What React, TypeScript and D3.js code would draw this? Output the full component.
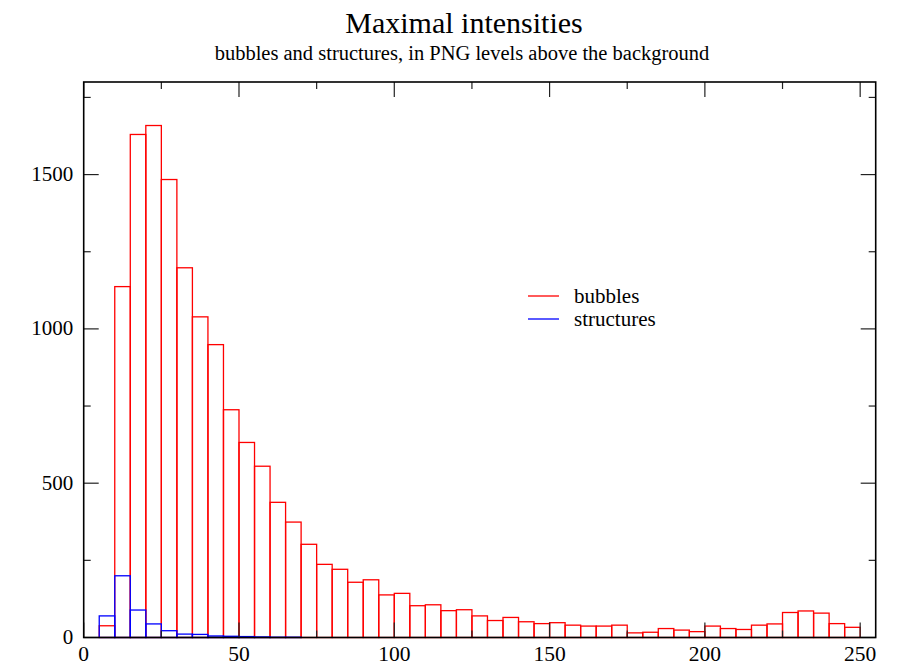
import React from "react";
import * as d3 from "d3";

const binStart = 5;
const binWidth = 5;
const bubbles = [38, 1137, 1630, 1659, 1484, 1198, 1039, 949, 738, 632, 555, 438, 374, 302, 237, 221, 179, 187, 138, 143, 103, 106, 87, 90, 70, 55, 65, 51, 45, 48, 40, 37, 37, 40, 15, 17, 29, 24, 19, 37, 29, 26, 40, 44, 81, 86, 79, 45, 33];
const structures = [70, 200, 89, 44, 22, 11, 10, 5, 4, 3, 2, 1, 1, 0, 0, 0, 0, 0, 0, 0];
const xTicks = [0, 50, 100, 150, 200, 250];
const yTicks = [0, 500, 1000, 1500];
const xMinor = [25, 75, 125, 175, 225];
const yMinor = [250, 750, 1250, 1750];
const seriesNames = ["bubbles", "structures"];
const seriesColors = ["#ff0000", "#0000ff"];

const W = 919, H = 668;
const left = 83.7, right = 875.7, top = 82, bottom = 637.5;

export default function App() {
  const x = d3.scaleLinear().domain([0, 255]).range([left, right]);
  const y = d3.scaleLinear().domain([0, 1800]).range([bottom, top]);
  const font = "'Liberation Serif', 'Times New Roman', serif";
  const bars = (vals: number[], color: string) =>
    vals.map((v, i) => {
      const x0 = x(binStart + i * binWidth);
      const x1 = x(binStart + (i + 1) * binWidth);
      return (
        <rect key={i} x={x0} y={y(v)} width={x1 - x0} height={y(0) - y(v)} fill="none" stroke={color} strokeWidth={1.3} />
      );
    });
  const major = 15, minor = 7;
  return (
    <svg width={W} height={H} style={{ position: "absolute", left: 0, top: 0, background: "#fff" }} fontFamily={font}>
      <text x={464} y={33} textAnchor="middle" fontSize={30}>Maximal intensities</text>
      <text x={462} y={60} textAnchor="middle" fontSize={20.5}>bubbles and structures, in PNG levels above the background</text>
      {bars(bubbles, seriesColors[0])}
      {bars(structures, seriesColors[1])}
      <g stroke="#222" strokeWidth={1.2}>
        {xTicks.map((t) => (
          <g key={"xt" + t}>
            <line x1={x(t)} x2={x(t)} y1={bottom} y2={bottom - major} />
            <line x1={x(t)} x2={x(t)} y1={top} y2={top + major} />
          </g>
        ))}
        {xMinor.map((t) => (
          <g key={"xm" + t}>
            <line x1={x(t)} x2={x(t)} y1={bottom} y2={bottom - minor} />
            <line x1={x(t)} x2={x(t)} y1={top} y2={top + minor} />
          </g>
        ))}
        {yTicks.map((t) => (
          <g key={"yt" + t}>
            <line x1={left} x2={left + major} y1={y(t)} y2={y(t)} />
            <line x1={right} x2={right - major} y1={y(t)} y2={y(t)} />
          </g>
        ))}
        {yMinor.map((t) => (
          <g key={"ym" + t}>
            <line x1={left} x2={left + minor} y1={y(t)} y2={y(t)} />
            <line x1={right} x2={right - minor} y1={y(t)} y2={y(t)} />
          </g>
        ))}
      </g>
      <rect x={left} y={top} width={right - left} height={bottom - top} fill="none" stroke="#000" strokeWidth={1.6} />
      {xTicks.map((t) => (
        <text key={"xl" + t} x={x(t)} y={661} textAnchor="middle" fontSize={21.5}>{t}</text>
      ))}
      {yTicks.map((t) => (
        <text key={"yl" + t} x={left - 10.4} y={y(t) + 6.5} textAnchor="end" fontSize={21}>{t}</text>
      ))}
      {seriesNames.map((n, i) => (
        <g key={n}>
          <line x1={528} x2={559} y1={296 + i * 23} y2={296 + i * 23} stroke={seriesColors[i]} strokeWidth={1.3} />
          <text x={574} y={303 + i * 23} fontSize={21}>{n}</text>
        </g>
      ))}
    </svg>
  );
}
